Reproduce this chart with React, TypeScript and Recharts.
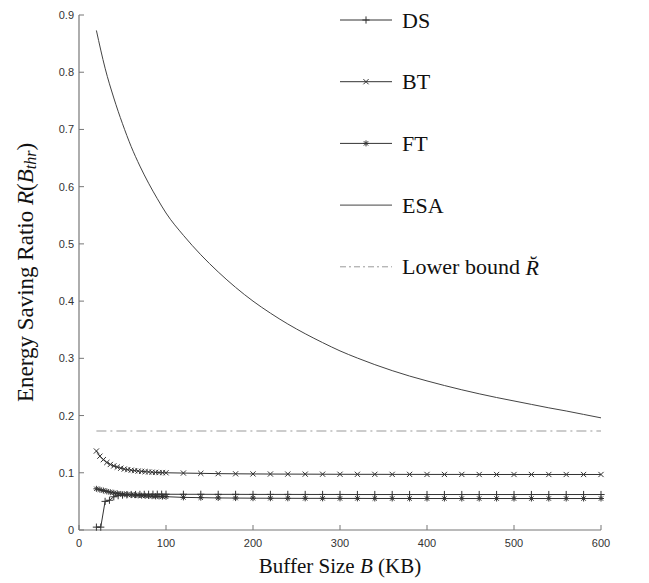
import { Label, Line, LineChart, XAxis, YAxis } from 'recharts';

// Buffer sizes (KB) for each series
const dsX = [20, 25, 30, 35, 40, 45, 50, 55, 60, 65, 70, 75, 80, 85, 90, 95, 100,
  120, 140, 160, 180, 200, 220, 240, 260, 280, 300, 320, 340, 360, 380, 400,
  420, 440, 460, 480, 500, 520, 540, 560, 580, 600];
const dsY = [0.005, 0.005, 0.05, 0.052, 0.058, 0.06, 0.061, 0.0615, 0.062, 0.062, 0.0622, 0.0623, 0.0624, 0.0625, 0.0625, 0.0625, 0.0625,
  0.0624, 0.0624, 0.0623, 0.0623, 0.0622, 0.0622, 0.0622, 0.0621, 0.0621, 0.0621, 0.062, 0.062, 0.062, 0.062, 0.062,
  0.062, 0.062, 0.062, 0.062, 0.062, 0.062, 0.062, 0.062, 0.062, 0.062];

const btX = [20, 24, 28, 32, 36, 40, 44, 48, 52, 56, 60, 64, 68, 72, 76, 80, 84, 88, 92, 96, 100,
  120, 140, 160, 180, 200, 220, 240, 260, 280, 300, 320, 340, 360, 380, 400,
  420, 440, 460, 480, 500, 520, 540, 560, 580, 600];
const btY = [0.138, 0.129, 0.123, 0.118, 0.1145, 0.112, 0.11, 0.108, 0.1065, 0.1055, 0.1045, 0.1038, 0.103, 0.1025, 0.102, 0.1015, 0.101, 0.1007, 0.1004, 0.1002, 0.1,
  0.0995, 0.099, 0.0985, 0.0982, 0.098, 0.0978, 0.0977, 0.0976, 0.0975, 0.0974, 0.0973, 0.0973, 0.0972, 0.0972, 0.0971,
  0.0971, 0.0971, 0.097, 0.097, 0.097, 0.097, 0.097, 0.097, 0.097, 0.097];

const ftX = btX;
const ftY = [0.072, 0.0705, 0.069, 0.0675, 0.066, 0.065, 0.064, 0.063, 0.0625, 0.062, 0.0615, 0.061, 0.0605, 0.06, 0.0597, 0.0594, 0.0591, 0.0588, 0.0586, 0.0584, 0.0582,
  0.057, 0.0565, 0.056, 0.0558, 0.0556, 0.0555, 0.0554, 0.0553, 0.0553, 0.0552, 0.0552, 0.0551, 0.0551, 0.0551, 0.055,
  0.055, 0.055, 0.055, 0.055, 0.055, 0.055, 0.055, 0.055, 0.055, 0.055];

const esaX = [20, 30, 40, 50, 60, 70, 80, 90, 100, 120, 140, 160, 180, 200, 220, 240, 260, 280, 300,
  320, 340, 360, 380, 400, 420, 440, 460, 480, 500, 520, 540, 560, 580, 600];
const esaY = [0.873, 0.807, 0.755, 0.71, 0.67, 0.636, 0.606, 0.579, 0.554, 0.515, 0.481, 0.451, 0.424, 0.4, 0.379, 0.36, 0.343, 0.3275, 0.313,
  0.3005, 0.289, 0.2785, 0.269, 0.2605, 0.2525, 0.245, 0.238, 0.2315, 0.2255, 0.2195, 0.2135, 0.208, 0.202, 0.196];

const boundX = [20, 600];
const boundY = [0.173, 0.173];

const xTicks = [0, 100, 200, 300, 400, 500, 600];
const yTicks = [0, 0.1, 0.2, 0.3, 0.4, 0.5, 0.6, 0.7, 0.8, 0.9];

const zip = (xs: number[], ys: number[]) => xs.map((x, i) => ({ x, y: ys[i] }));

const SERIF = '"Liberation Serif", "Times New Roman", serif';
const SANS = '"Liberation Sans", Arial, sans-serif';
const INK = '#333';

function Mark({ cx, cy, kind }: { cx: number; cy: number; kind: string }) {
  const p = 3.6;
  const c = 2.6;
  return (
    <g stroke={INK} strokeWidth={1} fill="none">
      {kind === 'plus' && (
        <>
          <line x1={cx - p} y1={cy} x2={cx + p} y2={cy} />
          <line x1={cx} y1={cy - p} x2={cx} y2={cy + p} />
        </>
      )}
      {kind === 'cross' && (
        <>
          <line x1={cx - c} y1={cy - c} x2={cx + c} y2={cy + c} />
          <line x1={cx - c} y1={cy + c} x2={cx + c} y2={cy - c} />
        </>
      )}
      {kind === 'star' && (
        <>
          <line x1={cx - 3} y1={cy} x2={cx + 3} y2={cy} />
          <line x1={cx} y1={cy - 3} x2={cx} y2={cy + 3} />
          <line x1={cx - 2.2} y1={cy - 2.2} x2={cx + 2.2} y2={cy + 2.2} />
          <line x1={cx - 2.2} y1={cy + 2.2} x2={cx + 2.2} y2={cy - 2.2} />
        </>
      )}
    </g>
  );
}

const dotOf = (kind: string) => (p: any) => (
  <Mark key={`${kind}-${p.index}`} cx={p.cx} cy={p.cy} kind={kind} />
);

const legendRows = [
  { name: 'DS', mark: 'plus', color: INK, dash: undefined },
  { name: 'BT', mark: 'cross', color: INK, dash: undefined },
  { name: 'FT', mark: 'star', color: INK, dash: undefined },
  { name: 'ESA', mark: '', color: '#444', dash: undefined },
  { name: 'Lower bound', mark: '', color: '#999', dash: '6 3 2 3' },
];

function LegendBox() {
  return (
    <svg width={260} height={290} style={{ position: 'absolute', left: 332, top: 0, overflow: 'visible' }}>
      {legendRows.map((r, i) => {
        const y = 12 + i * 61.7;
        return (
          <g key={r.name}>
            <line x1={0} y1={y} x2={52} y2={y} stroke={r.color} strokeWidth={1} strokeDasharray={r.dash} />
            {r.mark && <Mark cx={26} cy={y} kind={r.mark} />}
            <text x={62} y={y} dominantBaseline="central" fontFamily={SERIF} fontSize={22} fill="#111">
              {r.name}
              {r.name === 'Lower bound' && <tspan fontStyle="italic">{' R\u0306'}</tspan>}
            </text>
          </g>
        );
      })}
    </svg>
  );
}

function YTick(props: any) {
  const { x, y, payload } = props;
  const ax = x + 5;
  return (
    <g>
      <line x1={ax} y1={y} x2={ax + 5} y2={y} stroke="#777" />
      <text x={x} y={y} textAnchor="end" dominantBaseline="central" fontFamily={SANS} fontSize={11} fill={INK}>
        {payload.value === 0 ? '0' : payload.value.toFixed(1)}
      </text>
    </g>
  );
}

function XTick(props: any) {
  const { x, y, payload } = props;
  const ay = y - 8;
  return (
    <g>
      <line x1={x} y1={ay} x2={x} y2={ay - 5} stroke="#777" />
      <text x={x} y={y} dy="0.8em" textAnchor="middle" fontFamily={SANS} fontSize={11} fill={INK}>
        {payload.value}
      </text>
    </g>
  );
}

function YTitle({ viewBox }: any) {
  const cx = 17;
  const cy = viewBox.y + viewBox.height / 2;
  return (
    <text x={cx} y={cy} transform={`rotate(-90, ${cx}, ${cy})`} textAnchor="middle" dominantBaseline="central"
      fontFamily={SERIF} fontSize={23} fill="#111">
      Energy Saving Ratio <tspan fontStyle="italic">R</tspan>(<tspan fontStyle="italic">B</tspan>
      <tspan fontStyle="italic" fontSize={16} dy={5}>thr</tspan>
      <tspan dy={-5}>)</tspan>
    </text>
  );
}

function XTitle({ viewBox }: any) {
  const cx = viewBox.x + viewBox.width / 2;
  return (
    <text x={cx} y={viewBox.y + 43} textAnchor="middle" fontFamily={SERIF} fontSize={21} fill="#111">
      Buffer Size <tspan fontStyle="italic">B</tspan> (KB)
    </text>
  );
}

export default function App() {
  return (
    <div style={{ width: 633, height: 575, position: 'relative' }}>
      <LineChart width={633} height={575} margin={{ top: 7, right: 40, left: 0, bottom: 8 }}>
        <XAxis
          type="number"
          dataKey="x"
          domain={[0, 600]}
          ticks={xTicks}
          interval={0}
          height={45}
          tickSize={0}
          tickMargin={8}
          tick={<XTick />}
          axisLine={{ stroke: '#777', strokeWidth: 1.2 }}
        >
          <Label content={XTitle} />
        </XAxis>
        <YAxis
          type="number"
          dataKey="y"
          domain={[0, 0.9]}
          ticks={yTicks}
          interval={0}
          width={71}
          tickSize={0}
          tickMargin={5}
          tick={<YTick />}
          axisLine={{ stroke: '#777', strokeWidth: 1.2 }}
        >
          <Label content={YTitle} />
        </YAxis>
        <Line data={zip(boundX, boundY)} dataKey="y" name="Lower bound" stroke="#999" strokeWidth={1.2}
          strokeDasharray="10 4 2 4" dot={false} activeDot={false} isAnimationActive={false} />
        <Line data={zip(esaX, esaY)} dataKey="y" name="ESA" type="monotone" stroke="#444" strokeWidth={1}
          dot={false} activeDot={false} isAnimationActive={false} />
        <Line data={zip(btX, btY)} dataKey="y" name="BT" stroke={INK} strokeWidth={1}
          dot={dotOf('cross')} activeDot={false} isAnimationActive={false} />
        <Line data={zip(ftX, ftY)} dataKey="y" name="FT" stroke={INK} strokeWidth={1}
          dot={dotOf('star')} activeDot={false} isAnimationActive={false} />
        <Line data={zip(dsX, dsY)} dataKey="y" name="DS" stroke={INK} strokeWidth={1}
          dot={dotOf('plus')} activeDot={false} isAnimationActive={false} />
      </LineChart>
      <LegendBox />
    </div>
  );
}
